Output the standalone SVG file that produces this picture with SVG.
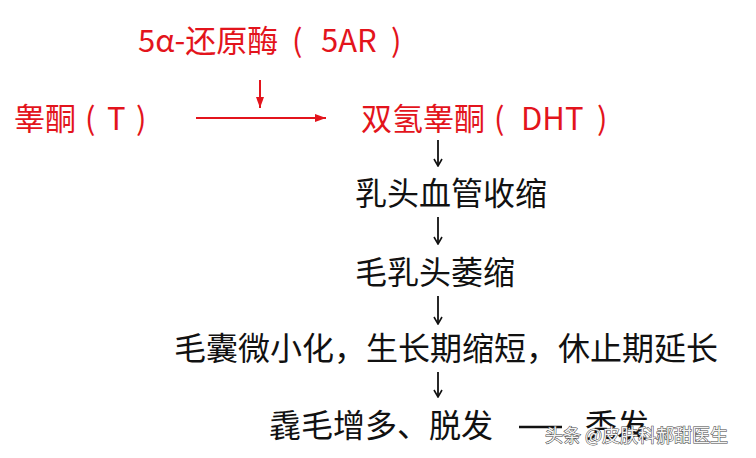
<svg xmlns="http://www.w3.org/2000/svg" width="756" height="458" viewBox="0 0 756 458">
<style>
.t{font-family:"Noto Sans CJK SC","Microsoft YaHei",sans-serif;font-size:31px;}
.b{font-size:32px;}
.r{fill:#e3141c;}
.k{fill:#111;}
.wm{font-family:"Noto Sans CJK SC",sans-serif;font-size:18px;fill:#f4f4f4;stroke:#444;stroke-width:1px;paint-order:stroke;}
</style>
<defs>
<marker id="ak" markerWidth="10" markerHeight="10" refX="9" refY="5" orient="auto" markerUnits="userSpaceOnUse" viewBox="0 0 10 10">
<path d="M2,1 L9,5 L2,9" fill="none" stroke="#111" stroke-width="1.6"/>
</marker>
<marker id="ar" markerWidth="12" markerHeight="10" refX="11" refY="5" orient="auto" markerUnits="userSpaceOnUse" viewBox="0 0 12 10">
<path d="M0,1 L11,5 L0,9 Z" fill="#e3141c"/>
</marker>
</defs>
<rect width="756" height="458" fill="#fff"/>
<g id="enzyme"><text class="t r" y="52"><tspan x="138">5α-还原酶</tspan><tspan x="292">(</tspan><tspan x="321">5AR</tspan><tspan x="391">)</tspan></text></g>
<g id="testosterone"><text class="t r" y="130"><tspan x="14">睾酮</tspan><tspan x="85">(</tspan><tspan x="107">T</tspan><tspan x="136">)</tspan></text></g>
<g id="dht"><text class="t r" y="130"><tspan x="361">双氢睾酮</tspan><tspan x="494">(</tspan><tspan x="521">DHT</tspan><tspan x="597">)</tspan></text></g>
<g id="n1"><text class="t b k" x="355" y="205">乳头血管收缩</text></g>
<g id="n2"><text class="t b k" x="355" y="284">毛乳头萎缩</text></g>
<g id="n3"><text class="t b k" x="174" y="360">毛囊微小化，生长期缩短，休止期延长</text></g>
<g id="n4"><text class="t b k" x="269" y="437">毳毛增多、脱发</text><text class="t b k" x="585" y="437">秃发</text></g>
<g id="connectors">
<line x1="196" y1="118" x2="326" y2="118" stroke="#e3141c" stroke-width="2.2" marker-end="url(#ar)"/>
<line x1="260" y1="80" x2="260" y2="108" stroke="#e3141c" stroke-width="2" marker-end="url(#ar)"/>
<line x1="438" y1="140" x2="438" y2="166" stroke="#111" stroke-width="1.8" marker-end="url(#ak)"/>
<line x1="438" y1="217" x2="438" y2="244" stroke="#111" stroke-width="1.8" marker-end="url(#ak)"/>
<line x1="438" y1="296" x2="438" y2="324" stroke="#111" stroke-width="1.8" marker-end="url(#ak)"/>
<line x1="438" y1="372" x2="438" y2="397" stroke="#111" stroke-width="1.8" marker-end="url(#ak)"/>
<line x1="519" y1="427" x2="562" y2="427" stroke="#111" stroke-width="2.5"/>
</g>
<g id="watermark"><text class="wm" x="545" y="442">头条 @皮肤科郝甜医生</text></g>
</svg>
